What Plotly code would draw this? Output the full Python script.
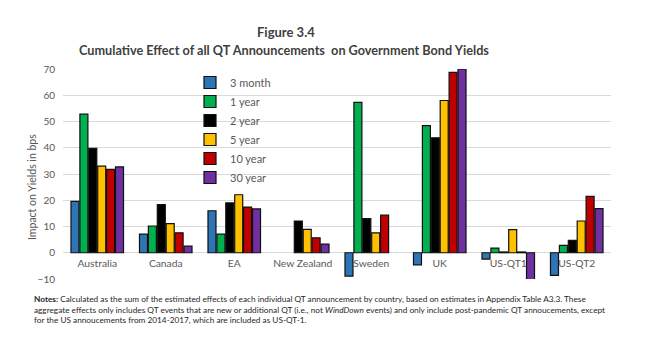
import plotly.graph_objects as go

categories = ["Australia", "Canada", "EA", "New Zealand", "Sweden", "UK", "US-QT1", "US-QT2"]
series_names = ["3 month", "1 year", "2 year", "5 year", "10 year", "30 year"]
m3 = [19.6, 7.1, 16.0, None, -8.9, -4.6, -2.4, -8.6]
y1 = [52.8, 10.2, 7.1, None, 57.3, 48.4, 1.8, 2.8]
y2 = [39.8, 18.3, 19.0, 12.1, 13.0, 43.8, 0.3, 4.7]
y5 = [33.0, 11.1, 22.1, 8.9, 7.6, 58.0, 8.8, 12.1]
y10 = [31.8, 7.6, 17.4, 5.7, 14.3, 68.7, 0.3, 21.5]
y30 = [32.7, 2.5, 16.7, 3.3, None, 70.0, -10.6, 16.8]
series_values = [m3, y1, y2, y5, y10, y30]
colors = ["#2E75B6", "#00B050", "#000000", "#FFC000", "#C00000", "#7030A0"]
y_ticks = [-10, 0, 10, 20, 30, 40, 50, 60, 70]

title_line1 = "Figure 3.4"
title_line2 = "Cumulative Effect of all QT Announcements  on Government Bond Yields"
y_title = "Impact on Yields in bps"
notes = [
    "<b>Notes:</b> Calculated as the sum of the estimated effects of each individual QT announcement by country, based on estimates in Appendix Table A3.3. These",
    "aggregate effects only includes QT events that are new or additional QT (i.e., not <i>WindDown</i> events) and only include post-pandemic QT annoucements, except",
    "for the US annoucements from 2014-2017, which are included as US-QT-1.",
]

FONT = "Lato"
GREY = "#595959"

# The page body has an 8px margin; figure coords = page coords - 8
OFF = 8
W, H = 640, 341
PL, PR, PT, PB = 63, 611, 69, 279          # plot area in page coords
L, T = PL - OFF, PT - OFF
R = W - (PR - OFF)
B = H - (PB - OFF)
pw = PR - PL
ph = PB - PT

def px(X):
    return (X - PL) / pw

def py(Y):
    return (PB - Y) / ph

fig = go.Figure()
for name, vals, c in zip(series_names, series_values, colors):
    fig.add_trace(go.Bar(
        x=categories, y=vals, name=name,
        marker=dict(color=c, line=dict(color="#111111", width=1.2)),
    ))

fig.update_layout(
    width=W, height=H,
    margin=dict(l=L, r=R, t=T, b=B),
    paper_bgcolor="white", plot_bgcolor="white",
    barmode="group", bargap=0.22, bargroupgap=0.1,
    font=dict(family=FONT, color=GREY),
    showlegend=True,
    legend=dict(
        x=px(190), y=py(68), xanchor="left", yanchor="top",
        font=dict(size=11, color=GREY, family=FONT),
        bgcolor="rgba(0,0,0,0)", borderwidth=0,
        tracegroupgap=0,
    ),
    xaxis=dict(
        type="category", anchor="free", position=10 / 80,
        showgrid=False, showline=False, ticks="", ticklabelstandoff=3,
        tickfont=dict(size=10.3, color=GREY, family=FONT),
        fixedrange=True,
    ),
    yaxis=dict(
        range=[-10, 70], tickvals=y_ticks, showgrid=True,
        gridcolor="#d9d9d9", gridwidth=1, zeroline=True,
        zerolinecolor="#d9d9d9", zerolinewidth=1,
        showline=False, ticks="", ticklabelstandoff=7,
        tickfont=dict(size=10, color=GREY, family=FONT),
        fixedrange=True,
    ),
)

fig.add_annotation(text=y_title, xref="paper", yref="paper",
                   x=px(32), y=py(187), textangle=-90,
                   showarrow=False, xanchor="center", yanchor="middle",
                   font=dict(size=10.5, color=GREY, family=FONT))
fig.add_annotation(text="<b>" + title_line1 + "</b>", xref="paper", yref="paper",
                   x=px(286), y=py(32), showarrow=False,
                   xanchor="center", yanchor="middle",
                   font=dict(size=13, color="#404040", family=FONT))
fig.add_annotation(text="<b>" + title_line2 + "</b>", xref="paper", yref="paper",
                   x=px(284), y=py(50), showarrow=False,
                   xanchor="center", yanchor="middle",
                   font=dict(size=12.7, color="#404040", family=FONT))
for i, line in enumerate(notes):
    fig.add_annotation(text=line, xref="paper", yref="paper",
                       x=px(32), y=py(299 + i * 10.7),
                       showarrow=False, xanchor="left", yanchor="middle",
                       font=dict(size=8.25, color="#262626", family=FONT))

fig.write_html("out.html")
